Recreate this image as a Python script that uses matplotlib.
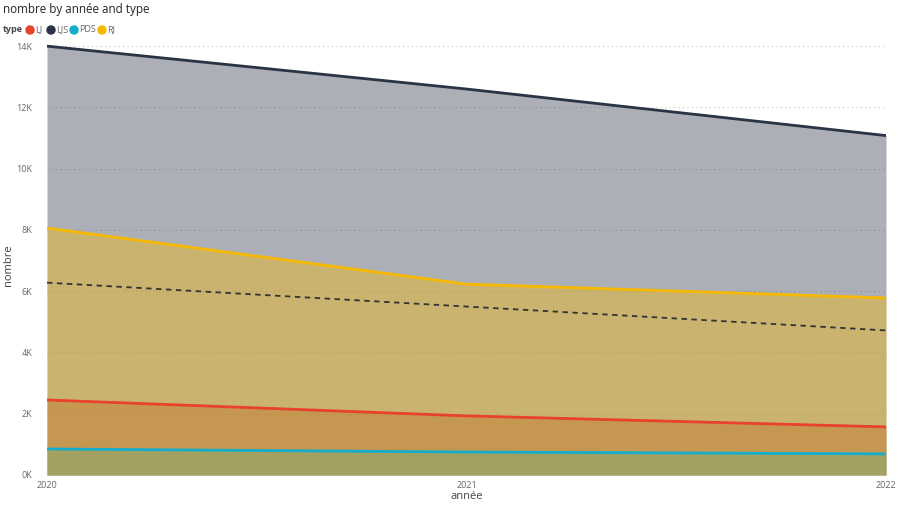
import numpy as np
import matplotlib.pyplot as plt
from matplotlib.patches import Ellipse
from matplotlib.ticker import FuncFormatter

plt.rcParams['font.family'] = ['Open Sans', 'DejaVu Sans']

years = [2020, 2021, 2022]
types = ['LJ', 'LJS', 'PDS', 'RJ']
lj = [2450, 1930, 1570]
ljs = [14000, 12600, 11080]
pds = [850, 750, 690]
rj = [8060, 6230, 5780]

colors = {'LJ': '#E8412C', 'LJS': '#2A3444', 'PDS': '#14ADCB', 'RJ': '#F7B900'}
series = {'LJ': lj, 'LJS': ljs, 'PDS': pds, 'RJ': rj}

W, H = 900, 507
fig = plt.figure(figsize=(W / 100, H / 100), dpi=100)
ax = fig.add_axes([47 / W, 32 / H, 839 / W, 431 / H])

# overlapping (not stacked) areas, drawn in legend order
for t in types:
    ax.fill_between(years, 0, series[t], color=colors[t], alpha=0.39, linewidth=0)
for t in types:
    ax.plot(years, series[t], color=colors[t], linewidth=2, solid_capstyle='butt')

# trend line of the average over types
avg = np.mean([lj, ljs, pds, rj], axis=0)
coef = np.polyfit(years, avg, 1)
ax.plot(years, np.polyval(coef, years), color='#333333', linestyle=(0, (3, 2.5)), linewidth=1.3)

ax.set_xlim(2020, 2022)
ax.set_ylim(0, 14070)
ax.set_xticks(years)
ax.set_xticklabels([str(y) for y in years])
ax.set_yticks(np.arange(0, 14001, 2000))
ax.yaxis.set_major_formatter(FuncFormatter(lambda v, p: f"{int(v/1000)}K"))
ax.tick_params(axis='both', length=0, labelsize=6.5, labelcolor='#666666')
ax.tick_params(axis='y', pad=10.5)
ax.tick_params(axis='x', pad=4)

ax.grid(axis='y', color='#C8C8C8', linestyle=(0, (1, 3)), linewidth=0.8)
ax.set_axisbelow(True)
for s in ax.spines.values():
    s.set_visible(False)

ax.set_xlabel('année', fontsize=8, color='#444444', labelpad=1)
fig.text(8 / W, 1 - 265 / H, 'nombre', fontsize=8, color='#444444',
         rotation=90, ha='center', va='center')

fig.text(3 / W, 1 - 13 / H, 'nombre by année and type', fontsize=8.4,
         color='#252423', va='baseline')

# legend row
ly = 1 - 30 / H
base = 1 - 32.5 / H
fig.text(3 / W, base, 'type', fontsize=6.5, fontweight='bold', color='#444444', va='baseline')
dot_x = [30, 51, 74, 102]
for x, t in zip(dot_x, types):
    fig.patches.append(Ellipse((x / W, ly), 8 / W, 8 / H, transform=fig.transFigure,
                               color=colors[t]))
    fig.text((x + 5) / W, base, t, fontsize=6.5, color='#666666', va='baseline')

fig.savefig('out.png', dpi=100)
